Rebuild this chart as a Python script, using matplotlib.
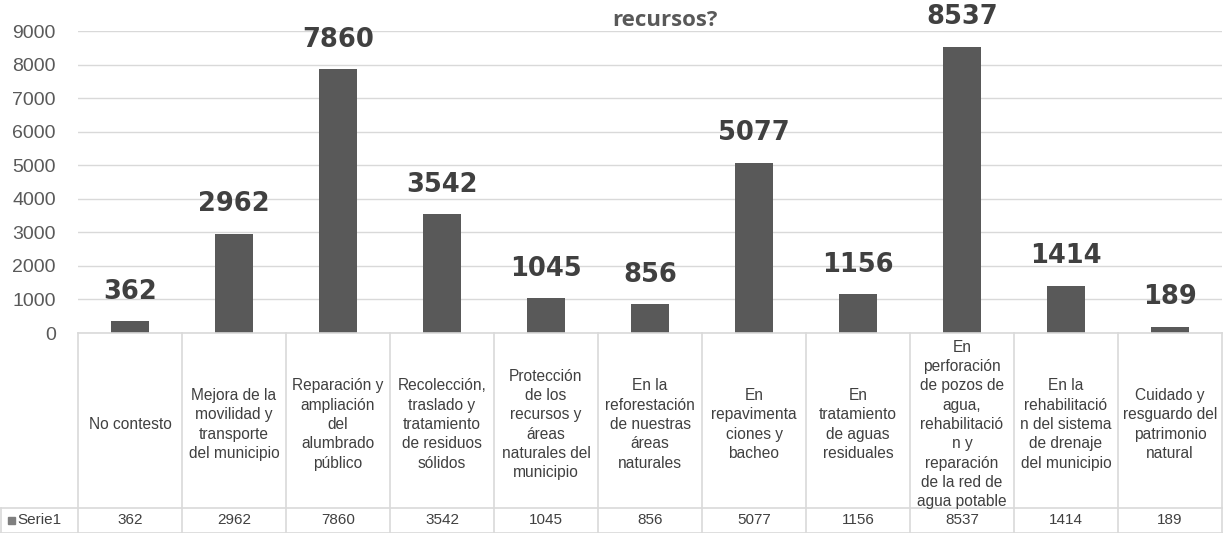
import matplotlib.pyplot as plt
import numpy as np

# data
categorias = [
    "No contesto",
    "Mejora de la\nmovilidad y\ntransporte\ndel municipio",
    "Reparación y\nampliación\ndel\nalumbrado\npúblico",
    "Recolección,\ntraslado y\ntratamiento\nde residuos\nsólidos",
    "Protección\nde los\nrecursos y\náreas\nnaturales del\nmunicipio",
    "En la\nreforestación\nde nuestras\náreas\nnaturales",
    "En\nrepavimenta\nciones y\nbacheo",
    "En\ntratamiento\nde aguas\nresiduales",
    "En\nperforación\nde pozos de\nagua,\nrehabilitació\nn y\nreparación\nde la red de\nagua potable",
    "En la\nrehabilitació\nn del sistema\nde drenaje\ndel municipio",
    "Cuidado y\nresguardo del\npatrimonio\nnatural",
]
valores = [362, 2962, 7860, 3542, 1045, 856, 5077, 1156, 8537, 1414, 189]
serie = "Serie1"
titulo = "recursos?"

BAR = "#595959"
TXT = "#404040"
GRID = "#d9d9d9"
FONT = "Liberation Sans"

W, H = 1225, 533
fig = plt.figure(figsize=(W / 100, H / 100), dpi=100)
ax_left, ax_right = 78 / W, 1222 / W
ax_bot, ax_top = 1 - 333 / H, 1 - 31 / H
ax = fig.add_axes([ax_left, ax_bot, ax_right - ax_left, ax_top - ax_bot])

n = len(valores)
x = np.arange(n)
ax.bar(x, valores, width=0.36, color=BAR, zorder=3)
ax.set_xlim(-0.5, n - 0.5)
ax.set_ylim(0, 9000)
ax.set_yticks(np.arange(0, 9001, 1000))
ax.set_yticklabels([str(v) for v in range(0, 9001, 1000)],
                   fontsize=14, color="#595959", family=FONT)
ax.tick_params(axis="y", length=0, pad=16)
ax.tick_params(axis="x", length=0, labelbottom=False)
ax.grid(axis="y", color=GRID, linewidth=1, zorder=0)
for s in ax.spines.values():
    s.set_visible(False)

for xi, v in zip(x, valores):
    ax.annotate(str(v), (xi, v), xytext=(0, 21), textcoords="offset points",
                ha="center", va="center", fontsize=18.5, fontweight="bold",
                color=TXT, family="DejaVu Sans", annotation_clip=False)

fig.text(665 / W, 1 - 20 / H, titulo, ha="center", va="center",
         fontsize=16, fontweight="bold", color="#595959", family="Open Sans")

# data table below the plot (figure pixel coords -> fractions)
def fx(px):
    return px / W

def fy(py):
    return 1 - py / H

edges = np.linspace(78, 1222, n + 1)
row_top, row_mid, row_bot = 333, 508, 532.5
line_kw = dict(color=GRID, linewidth=1.2, transform=fig.transFigure)
fig.add_artist(plt.Line2D([fx(78), fx(1222)], [fy(row_top)] * 2, **line_kw))
fig.add_artist(plt.Line2D([fx(1), fx(1222)], [fy(row_mid)] * 2, **line_kw))
fig.add_artist(plt.Line2D([fx(1), fx(1222)], [fy(row_bot)] * 2, **line_kw))
fig.add_artist(plt.Line2D([fx(1), fx(1)], [fy(row_mid), fy(row_bot)], **line_kw))
for e in edges:
    fig.add_artist(plt.Line2D([fx(e)] * 2, [fy(row_top), fy(row_bot)], **line_kw))

for i, (cat, v) in enumerate(zip(categorias, valores)):
    cx = (edges[i] + edges[i + 1]) / 2
    fig.text(fx(cx), fy((row_top + row_mid) / 2 + 4), cat, ha="center", va="center",
             fontsize=11.2, color=TXT, family=FONT, linespacing=1.36, multialignment="center")
    fig.text(fx(cx), fy((row_mid + row_bot) / 2), str(v), ha="center", va="center",
             fontsize=11, color=TXT, family=FONT)

fig.add_artist(plt.Rectangle((fx(8), fy(524)), fx(7), 7 / H, color="#7f7f7f",
                             transform=fig.transFigure))
fig.text(fx(17), fy(520), serie, ha="left", va="center", fontsize=11,
         color=TXT, family=FONT)

fig.savefig("out.png", dpi=100, facecolor="white")
